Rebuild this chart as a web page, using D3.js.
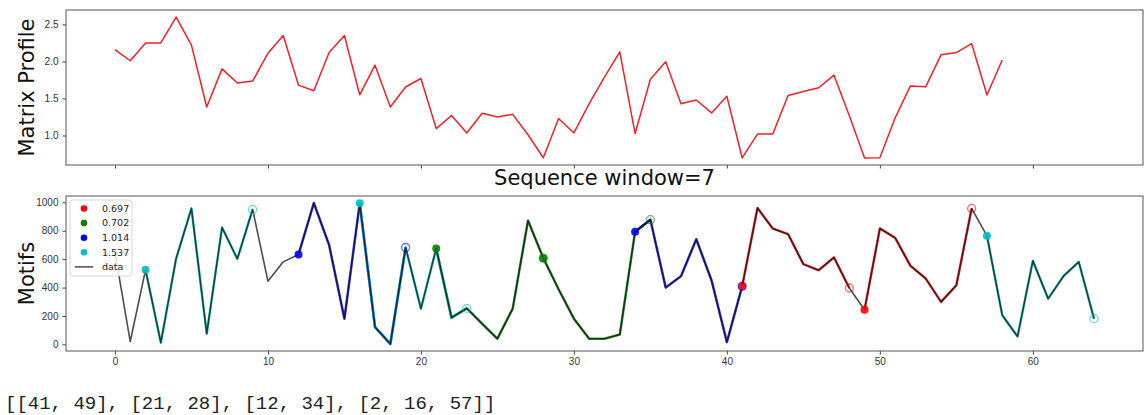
<!DOCTYPE html>
<html>
<head>
<meta charset="utf-8">
<script src="https://cdn.jsdelivr.net/npm/d3@7"></script>
<style>
  body { margin: 0; background: #fff; }
  svg { display: block; font-family: "DejaVu Sans", sans-serif; }
  .tick text { fill: #333; font-size: 10px; }
  .tick line { stroke: #444; }
</style>
</head>
<body>
<div id="chart"></div>
<script>
// ------------------------------------------------------------------
//  values
// ------------------------------------------------------------------
const profile = [2.16, 2.01, 2.25, 2.25, 2.60, 2.22, 1.385, 1.90, 1.71, 1.735,
                 2.11, 2.35, 1.68, 1.605, 2.12, 2.35, 1.55, 1.95, 1.385, 1.655,
                 1.77, 1.094, 1.27, 1.035, 1.30, 1.25, 1.286, 1.01, 0.70, 1.23,
                 1.035, 1.43, 1.79, 2.13, 1.027, 1.76, 1.995, 1.43, 1.48, 1.305,
                 1.53, 0.697, 1.02, 1.02, 1.54, 1.595, 1.645, 1.815, 1.27, 0.697,
                 0.70, 1.24, 1.67, 1.66, 2.09, 2.12, 2.24, 1.547, 2.02];

const series = [650, 20, 525, 12, 605, 957, 75, 823, 602, 950,
                445, 581, 633, 995, 699, 181, 993, 122, 3, 682,
                252, 675, 188, 254, 145, 40, 252, 872, 607, 388,
                181, 40, 40, 70, 793, 878, 400, 480, 740, 450,
                16, 409, 960, 816, 776, 565, 522, 612, 397, 244,
                816, 750, 553, 463, 299, 416, 957, 764, 205, 56,
                588, 322, 480, 581, 181];

const motifGroups = [[41, 49], [21, 28], [12, 34], [2, 16, 57]];
const motifLabels = ["0.697", "0.702", "1.014", "1.537"];
const motifColors = ["#ff0000", "#008000", "#0000ff", "#00bfbf"];
const windowLen = 7;

const xTicks = [0, 10, 20, 30, 40, 50, 60];
const profileTicks = [1.0, 1.5, 2.0, 2.5];
const seriesTicks = [0, 200, 400, 600, 800, 1000];
const resultText = "[[41, 49], [21, 28], [12, 34], [2, 16, 57]]";

// ------------------------------------------------------------------
const W = 1144, H = 415;
const left = 66, right = 1143;
const top1 = { y0: 10, y1: 165 };
const bot1 = { y0: 196, y1: 351 };

const svg = d3.select("#chart").append("svg")
    .attr("width", W).attr("height", H);

// matplotlib style 5% margins
function padded(ext) {
  const m = (ext[1] - ext[0]) * 0.05;
  return [ext[0] - m, ext[1] + m];
}

const x = d3.scaleLinear()
    .domain(padded([0, series.length - 1]))
    .range([left, right]);

const yTop = d3.scaleLinear()
    .domain(padded(d3.extent(profile)))
    .range([top1.y1, top1.y0]);

const yBot = d3.scaleLinear()
    .domain(padded(d3.extent(series)))
    .range([bot1.y1, bot1.y0]);

// clip paths
const defs = svg.append("defs");
defs.append("clipPath").attr("id", "clipTop").append("rect")
    .attr("x", left).attr("y", top1.y0).attr("width", right - left).attr("height", top1.y1 - top1.y0);
defs.append("clipPath").attr("id", "clipBot").append("rect")
    .attr("x", left).attr("y", bot1.y0).attr("width", right - left).attr("height", bot1.y1 - bot1.y0);

// ---------------- top panel : matrix profile ----------------
svg.append("g")
    .attr("transform", "translate(0," + top1.y1 + ")")
    .call(d3.axisBottom(x).tickValues(xTicks).tickFormat("").tickSize(3.5))
    .call(g => g.select(".domain").remove());

svg.append("g")
    .attr("transform", "translate(" + left + ",0)")
    .call(d3.axisLeft(yTop).tickValues(profileTicks).tickFormat(d3.format(".1f")).tickSize(3.5).tickPadding(4))
    .call(g => g.select(".domain").remove());

svg.append("path")
    .datum(profile)
    .attr("clip-path", "url(#clipTop)")
    .attr("fill", "none")
    .attr("stroke", "#f0202a")
    .attr("stroke-width", 1.5)
    .attr("stroke-linejoin", "round")
    .attr("d", d3.line().x((d, i) => x(i)).y(d => yTop(d)));

svg.append("rect")
    .attr("x", left).attr("y", top1.y0)
    .attr("width", right - left).attr("height", top1.y1 - top1.y0)
    .attr("fill", "none").attr("stroke", "#555").attr("stroke-width", 1);

svg.append("text")
    .attr("transform", "translate(34," + (top1.y0 + top1.y1) / 2 + ") rotate(-90)")
    .attr("text-anchor", "middle")
    .attr("font-size", 21)
    .attr("fill", "#111")
    .text("Matrix Profile");

// ---------------- bottom panel : motifs ----------------
svg.append("g")
    .attr("transform", "translate(0," + bot1.y1 + ")")
    .call(d3.axisBottom(x).tickValues(xTicks).tickSize(3.5).tickPadding(3))
    .call(g => g.select(".domain").remove());

svg.append("g")
    .attr("transform", "translate(" + left + ",0)")
    .call(d3.axisLeft(yBot).tickValues(seriesTicks).tickFormat(d3.format("d")).tickSize(3.5).tickPadding(4))
    .call(g => g.select(".domain").remove());

const plot = svg.append("g").attr("clip-path", "url(#clipBot)");
const lineBot = d3.line().x(i => x(i)).y(i => yBot(series[i]));

// coloured motif windows (under the data line)
motifGroups.forEach((grp, k) => {
  grp.forEach(start => {
    const idx = d3.range(start, Math.min(start + windowLen, series.length - 1) + 1);
    plot.append("path")
        .datum(idx)
        .attr("fill", "none")
        .attr("stroke", motifColors[k])
        .attr("stroke-opacity", 0.7)
        .attr("stroke-width", 2.6)
        .attr("stroke-linejoin", "round")
        .attr("d", lineBot);
  });
});

// data line
plot.append("path")
    .datum(d3.range(series.length))
    .attr("fill", "none")
    .attr("stroke", "#000")
    .attr("stroke-opacity", 0.7)
    .attr("stroke-width", 1.6)
    .attr("stroke-linejoin", "round")
    .attr("d", lineBot);

// motif start points and window ends
motifGroups.forEach((grp, k) => {
  plot.selectAll(null)
      .data(grp)
      .enter().append("circle")
      .attr("cx", d => x(d))
      .attr("cy", d => yBot(series[d]))
      .attr("r", 4)
      .attr("fill", motifColors[k])
      .attr("fill-opacity", 0.9);
});
motifGroups.forEach((grp, k) => {
  plot.selectAll(null)
      .data(grp.filter(d => d + windowLen < series.length))
      .enter().append("circle")
      .attr("cx", d => x(d + windowLen))
      .attr("cy", d => yBot(series[d + windowLen]))
      .attr("r", 4)
      .attr("fill", "none")
      .attr("stroke", motifColors[k])
      .attr("stroke-opacity", 0.6)
      .attr("stroke-width", 1.3);
});

svg.append("rect")
    .attr("x", left).attr("y", bot1.y0)
    .attr("width", right - left).attr("height", bot1.y1 - bot1.y0)
    .attr("fill", "none").attr("stroke", "#555").attr("stroke-width", 1);

svg.append("text")
    .attr("transform", "translate(34," + (bot1.y0 + bot1.y1) / 2 + ") rotate(-90)")
    .attr("text-anchor", "middle")
    .attr("font-size", 21)
    .attr("fill", "#111")
    .text("Motifs");

svg.append("text")
    .attr("x", (left + right) / 2)
    .attr("y", 185)
    .attr("text-anchor", "middle")
    .attr("font-size", 21)
    .attr("fill", "#111")
    .text("Sequence window=" + windowLen);

// legend
const legend = svg.append("g").attr("transform", "translate(70,200)");
legend.append("rect")
    .attr("width", 62).attr("height", 76).attr("rx", 3)
    .attr("fill", "#fff").attr("fill-opacity", 0.85)
    .attr("stroke", "#ccc").attr("stroke-width", 0.8);

const rowY = i => 8.5 + i * 14.6;
motifLabels.forEach((lab, k) => {
  legend.append("circle")
      .attr("cx", 14).attr("cy", rowY(k)).attr("r", 3.3)
      .attr("fill", motifColors[k]);
  legend.append("text")
      .attr("x", 32).attr("y", rowY(k)).attr("dy", "0.35em")
      .attr("font-size", 9.5).attr("fill", "#222")
      .text(lab);
});
legend.append("line")
    .attr("x1", 5).attr("x2", 23)
    .attr("y1", rowY(4)).attr("y2", rowY(4))
    .attr("stroke", "#000").attr("stroke-opacity", 0.7).attr("stroke-width", 1.5);
legend.append("text")
    .attr("x", 32).attr("y", rowY(4)).attr("dy", "0.35em")
    .attr("font-size", 9.5).attr("fill", "#222")
    .text("data");

// printed result below the figure
svg.append("text")
    .attr("x", 5).attr("y", 409)
    .attr("font-family", "'Courier New', 'Liberation Mono', monospace")
    .attr("font-size", 19)
    .attr("fill", "#222")
    .text(resultText);
</script>
</body>
</html>
